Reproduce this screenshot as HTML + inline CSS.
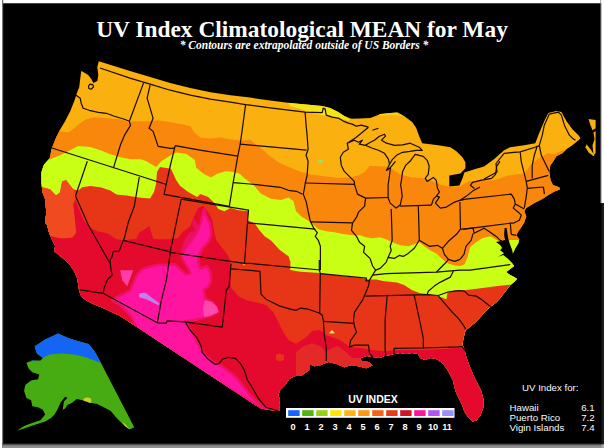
<!DOCTYPE html>
<html><head><meta charset="utf-8"><title>UV Index Climatological MEAN for May</title>
<style>
html,body{margin:0;padding:0;background:#000;}
body{width:604px;height:448px;overflow:hidden;font-family:"Liberation Sans",sans-serif;}
svg{display:block}
</style></head><body>
<svg width="604" height="448" viewBox="0 0 604 448">
<defs><clipPath id="us"><path d="M98.8 61.3 L130.0 71.1 L150.1 77.1 L170.2 83.1 L190.3 88.1 L210.4 92.2 L230.5 95.2 L250.0 97.6 L270.0 100.5 L290.0 103.0 L306.1 104.6 L322.2 106.1 L330.2 108.1 L338.2 112.1 L344.3 116.1 L350.3 118.7 L360.0 118.6 L370.4 118.1 L380.5 114.1 L390.5 113.1 L397.1 112.5 L404.1 116.1 L412.2 122.1 L416.2 128.1 L419.2 136.2 L422.2 143.2 L438.3 145.2 L450.4 147.2 L456.4 151.3 L462.4 157.3 L465.4 162.3 L465.4 168.3 L460.4 173.4 L449.3 175.4 L449.3 186.4 L459.4 185.4 L462.4 178.4 L464.4 172.4 L474.5 169.3 L484.0 166.4 L494.0 159.3 L504.1 150.3 L510.1 147.3 L524.2 145.3 L535.3 143.2 L538.3 135.2 L544.3 121.1 L548.3 113.1 L556.4 111.1 L561.4 112.1 L566.4 121.1 L572.4 129.2 L578.5 135.2 L580.5 138.2 L578.5 140.2 L572.4 145.3 L566.4 149.3 L562.4 153.3 L556.4 156.3 L553.3 161.3 L550.3 165.4 L549.3 171.4 L550.5 180.0 L553.0 185.0 L559.3 187.3 L559.9 189.5 L554.5 191.6 L548.4 195.1 L542.4 199.1 L534.4 203.1 L526.3 208.1 L524.3 211.2 L526.3 216.2 L524.3 222.2 L521.3 227.2 L518.3 231.3 L516.3 235.3 L519.3 239.3 L518.3 243.3 L515.3 248.3 L512.3 254.4 L513.7 260.4 L514.2 266.1 L510.2 269.1 L506.2 272.1 L510.2 275.1 L514.2 277.1 L517.2 279.1 L514.2 282.1 L510.2 285.2 L507.2 289.2 L503.2 294.2 L500.2 298.2 L496.8 302.0 L490.0 307.2 L484.6 312.3 L479.5 318.3 L474.5 323.3 L469.5 327.3 L465.5 330.4 L463.5 338.4 L462.5 344.4 L464.3 349.1 L466.3 357.1 L469.3 365.2 L473.4 375.2 L477.4 383.2 L481.4 391.3 L483.4 399.3 L483.4 407.4 L480.4 415.4 L476.4 420.4 L472.4 421.4 L468.3 417.4 L464.3 411.4 L462.3 405.4 L459.3 399.3 L456.3 393.3 L454.3 387.3 L453.3 381.2 L450.3 375.2 L447.2 369.2 L442.2 363.1 L436.2 359.1 L430.2 358.1 L425.1 360.1 L420.1 358.1 L418.1 354.1 L412.1 353.1 L406.0 354.1 L400.0 353.1 L392.0 354.8 L384.5 356.0 L380.0 358.1 L372.6 357.1 L366.5 356.1 L360.5 358.1 L361.5 361.1 L368.5 362.1 L372.6 365.2 L366.5 368.2 L358.5 366.2 L350.5 365.2 L344.4 367.2 L336.4 364.1 L328.3 362.1 L320.3 365.2 L314.3 366.2 L309.2 364.1 L309.2 370.2 L302.2 375.2 L294.2 376.2 L289.1 379.2 L285.1 385.3 L280.1 390.3 L278.1 395.3 L280.1 399.3 L279.1 405.4 L280.1 410.4 L276.0 411.0 L261.0 408.5 L251.0 402.3 L226.0 385.8 L201.0 369.3 L176.0 352.8 L160.0 342.2 L145.0 332.3 L130.0 322.4 L118.4 315.0 L114.4 313.4 L104.4 308.4 L94.3 304.4 L86.3 300.4 L81.3 296.4 L79.2 291.3 L78.2 285.3 L77.2 278.3 L74.2 271.2 L70.2 265.2 L65.2 260.2 L59.1 255.2 L54.1 251.1 L55.1 246.1 L52.1 240.1 L49.1 233.0 L47.1 225.0 L45.0 222.5 L46.3 212.5 L45.0 198.8 L42.5 192.5 L41.3 182.5 L41.3 172.5 L43.8 165.0 L50.0 157.5 L51.3 150.0 L53.1 145.0 L56.1 137.4 L60.1 129.4 L65.1 121.3 L70.2 111.3 L74.2 101.2 L76.2 95.2 L77.2 92.2 L79.2 87.2 L80.2 79.1 L81.2 71.1 L83.2 72.1 L88.2 75.1 L91.3 79.1 L93.3 83.1 L97.3 81.1 L98.3 75.1 L97.3 67.1Z"/></clipPath></defs>
<rect width="604" height="448" fill="#000"/>
<g clip-path="url(#us)">
<rect width="604" height="448" fill="#FAB00E"/>
<polygon points="280.0,95.0 288.0,102.0 290.0,106.1 302.1,109.6 312.1,113.1 323.2,115.6 330.2,116.6 338.2,118.1 348.3,120.8 352.0,118.0 352.0,100.0 280.0,90.0" fill="#F2E418"/>
<polygon points="375.0,110.0 380.5,116.0 390.0,115.2 398.0,115.2 403.0,116.0 400.0,110.0" fill="#F6D015"/>
<ellipse cx="320.5" cy="161.3" rx="3" ry="1.5" fill="#A8D860"/>
<polygon points="40.0,135.0 62.1,131.4 68.1,132.4 74.2,128.4 80.2,123.3 86.2,119.3 94.3,117.3 106.3,118.3 120.4,119.3 128.4,122.3 134.5,121.3 150.1,121.3 158.1,120.3 170.2,122.3 182.3,124.3 190.3,126.3 194.3,132.4 200.4,137.4 210.4,138.4 220.5,137.4 230.5,139.4 242.6,140.4 250.0,139.8 260.0,147.2 270.0,156.3 280.0,163.3 290.0,167.4 300.0,171.4 310.1,174.4 322.2,175.9 330.2,176.9 338.2,177.9 350.3,177.4 358.3,175.4 365.4,171.4 369.4,165.8 384.5,166.4 390.5,167.8 400.1,174.4 412.2,177.4 426.2,178.4 440.3,184.4 449.3,186.8 459.4,186.4 468.4,181.4 480.5,180.4 492.6,180.4 500.0,178.4 508.1,175.4 524.2,173.4 532.2,163.3 540.3,157.3 548.3,153.3 554.4,154.3 560.4,151.3 575.0,148.0 615.0,148.0 615.0,460.0 0.0,460.0 0.0,135.0" fill="#F8870C"/>
<polygon points="38.0,166.0 44.0,163.2 50.0,159.2 60.2,155.2 70.2,150.2 78.2,146.1 90.3,147.1 100.4,150.2 110.4,154.2 120.5,157.2 130.5,159.2 140.6,159.2 146.6,161.2 152.5,165.0 156.3,167.0 161.3,161.3 171.0,155.0 176.0,152.5 186.0,153.8 194.8,160.0 196.0,167.5 203.5,173.8 211.0,177.5 217.3,173.8 226.0,171.3 233.5,172.0 239.8,173.8 243.5,177.5 253.5,185.0 261.0,193.8 271.0,198.8 281.0,200.0 288.5,197.5 293.5,201.3 296.0,211.3 301.0,216.3 311.0,222.5 318.3,229.2 326.4,231.3 334.4,232.3 344.5,234.3 352.5,235.3 360.0,235.3 366.0,237.3 372.1,238.3 380.1,237.3 386.1,239.3 392.2,242.3 400.2,245.3 408.2,246.3 414.3,244.3 419.3,242.3 424.3,246.3 430.4,250.4 436.4,253.4 440.4,257.4 444.4,260.9 448.4,263.4 454.5,265.4 460.5,265.9 464.5,264.4 467.5,257.4 470.1,247.3 476.1,242.3 482.1,238.3 490.2,236.3 497.2,240.3 503.0,243.5 510.0,240.0 530.0,240.0 570.0,240.0 570.0,460.0 -2.0,460.0 -2.0,166.0" fill="#C8FF14"/>
<polygon points="38.0,186.0 42.0,187.3 50.0,189.3 56.0,195.4 60.0,192.4 62.2,181.3 66.2,180.3 69.2,184.3 73.2,189.3 78.2,190.4 82.3,187.3 90.3,186.0 100.4,187.3 110.4,190.4 116.4,194.4 126.5,195.4 138.5,197.4 150.0,198.5 154.0,192.0 156.0,184.0 157.0,172.0 160.0,167.0 171.0,168.8 176.1,180.0 180.2,186.0 188.2,192.0 197.2,197.1 200.3,194.1 208.3,197.1 214.3,203.1 218.3,209.1 224.4,211.2 230.4,208.1 238.4,210.2 248.5,211.2 247.5,220.2 254.5,223.2 259.5,230.3 264.6,236.3 271.0,240.5 279.8,250.0 288.5,256.3 290.5,262.0 290.2,270.1 300.2,271.7 320.3,273.1 340.4,276.1 360.5,278.1 368.5,279.6 376.0,279.6 384.5,281.3 397.0,282.5 404.2,285.1 412.2,290.2 420.3,293.2 430.3,294.2 438.3,296.2 446.4,299.2 447.4,293.2 454.4,290.2 464.5,290.2 474.5,289.1 482.6,288.1 495.5,286.3 506.8,285.0 530.0,284.0 570.0,284.0 570.0,460.0 -2.0,460.0 -2.0,186.0" fill="#E73518"/>
<polygon points="38.0,185.0 42.0,187.3 50.0,189.3 56.0,195.4 60.0,192.4 62.2,181.3 66.2,180.3 69.2,184.3 73.2,189.3 76.0,196.0 73.5,204.0 75.0,220.0 76.3,232.5 72.5,238.0 38.0,238.0" fill="#F04A20"/>
<polygon points="40.0,236.0 51.3,236.3 62.5,238.8 72.5,237.5 76.3,232.5 75.0,220.0 73.3,203.8 75.5,200.0 78.8,208.8 83.8,220.0 90.0,227.5 97.5,231.3 108.0,233.5 116.0,238.9 122.0,240.2 136.2,238.9 138.9,232.8 145.6,228.8 149.6,226.1 151.6,233.5 153.6,238.9 167.0,239.5 178.0,238.3 182.2,232.3 190.2,226.2 193.2,218.2 198.2,208.1 203.3,206.1 208.3,212.2 212.3,220.2 214.3,232.3 216.3,240.3 222.4,248.3 227.4,254.4 230.4,261.4 231.0,287.5 238.5,296.3 246.0,300.0 256.0,302.5 266.0,305.0 273.5,312.5 278.5,322.5 283.5,332.5 288.5,340.0 296.0,343.8 306.0,337.5 312.0,331.0 320.0,330.0 326.0,335.0 340.0,340.0 350.0,347.0 360.0,348.0 372.0,350.0 384.5,351.3 397.0,350.0 422.0,350.0 447.0,348.8 470.0,347.0 510.0,347.0 510.0,460.0 0.0,460.0 0.0,236.0" fill="#E40A2E"/>
<polygon points="296.0,352.0 304.0,346.0 312.1,343.3 320.0,346.0 326.1,352.3 332.0,348.0 338.0,346.0 346.0,352.0 352.0,358.0 362.0,358.0 368.3,355.3 376.0,360.0 376.0,374.0 296.0,382.0" fill="#E42A26"/>
<polygon points="276.0,355.0 279.0,353.5 284.0,355.0 284.0,360.0 280.0,361.5 276.0,360.0" fill="#E73518"/>
<polygon points="180.2,256.3 180.2,252.3 182.2,246.2 185.2,238.2 190.2,232.2 195.2,230.2 192.2,224.1 193.2,218.1 196.2,222.1 199.2,226.1 201.3,220.1 202.7,212.1 204.3,209.0 203.0,225.0 195.0,240.0 186.0,252.0" fill="#EA1060"/>
<polygon points="204.3,209.0 206.3,216.1 210.3,224.1 211.3,234.2 208.3,242.2 202.3,248.2 199.2,255.3 198.2,262.3 200.3,268.3 207.3,266.3 210.3,272.4 211.3,280.4 208.3,286.4 203.7,290.0 205.2,298.0 212.3,302.1 216.3,307.1 218.3,312.1 210.3,316.1 202.2,318.1 194.2,320.2 185.1,321.2 194.2,336.2 200.2,348.3 206.2,356.3 214.3,362.4 222.3,366.4 230.4,372.4 238.4,380.0 251.0,396.0 261.0,406.0 271.0,409.8 281.0,420.0 140.0,335.0 131.0,316.0 121.0,306.0 112.1,300.3 118.1,296.3 125.2,293.3 130.2,290.3 133.2,283.2 137.2,274.2 143.3,268.6 150.3,266.5 160.4,264.5 168.4,265.0 174.4,264.0 180.2,269.0 186.2,274.5 190.2,273.4 188.2,268.3 183.2,260.3 181.5,255.3 184.0,250.3 187.2,246.0 191.7,240.2 195.7,234.2 198.7,228.2 200.8,222.2 202.3,216.1 203.3,211.0" fill="#FF14A0" stroke="#F01068" stroke-width="2.5" stroke-linejoin="round"/>
<polygon points="120.2,270.2 133.2,270.2 127.2,286.2 122.2,280.2" fill="#FF3CA8"/>
<polygon points="205.0,300.0 212.0,302.0 217.0,307.0 218.5,312.0 210.0,316.0 204.0,317.0 203.0,308.0" fill="#FF48AE"/>
<polygon points="139.2,293.3 145.3,292.7 159.3,303.3 158.3,305.3 146.3,299.3 139.2,297.3" fill="#C080F0"/>
<polygon points="329.3,333.2 334.6,333.2 332.0,330.0" fill="#FFF0A0" stroke="#F0A020" stroke-width="0.6"/>
<polygon points="243.0,263.2 245.2,263.2 244.1,266.0" fill="#FFD020"/>
</g>
<polygon points="504.6,228.0 506.6,228.0 507.6,235.1 508.6,240.1 510.2,245.1 512.2,250.2 513.2,255.2 520.0,255.0 520.0,266.1 514.2,266.1 512.2,263.0 508.2,259.0 503.2,255.0 498.1,256.7 504.1,253.2 500.1,250.2 502.1,248.1 500.1,245.1 496.1,242.1 505.1,240.1 504.1,235.1" fill="#000"/>
<polygon points="588.5,119.1 595.6,120.1 595.6,128.2 592.5,130.2 590.5,125.2" fill="#FAB00E"/>
<polygon points="593.5,132.2 595.6,131.2 595.6,153.3 593.5,155.3 592.5,145.3 594.5,139.2" fill="#FAB00E"/>
<polygon points="586.5,144.2 590.5,149.3 594.5,155.3 593.5,156.3 588.5,152.3 585.5,147.3" fill="#FAB00E"/>
<g fill="none" stroke="#1a0a00" stroke-width="1.2" stroke-linejoin="round">
<path d="M100.0 68.0 L130.0 78.1 L150.1 84.1 L170.2 90.2 L190.3 95.2 L210.4 99.2 L230.5 102.2 L245.6 104.6 L270.0 107.8 L305.1 112.1 L322.2 112.7 L323.2 108.1 L325.2 109.1 L326.2 115.1 L332.2 117.1 L338.2 118.1 L343.3 121.1 L348.3 123.1 L352.3 124.1 L356.3 126.2 L361.4 125.2 L368.4 127.2"/>
<path d="M368.4 127.2 L362.4 132.2 L356.3 137.2 L350.3 141.2 L347.3 143.2 L354.3 140.2 L358.3 142.2 L362.4 140.2 L359.3 144.2 L365.4 145.3 L370.4 142.2 L374.4 140.2 L379.4 136.2 L384.5 134.2 L385.5 136.2 L381.5 140.2 L386.5 143.2 L394.5 145.3 L402.6 144.8 L410.2 143.2 L419.2 147.2 L422.2 150.3 L416.2 150.3 L410.0 151.3 L402.6 152.3 L396.5 155.3 L392.5 159.3 L389.5 164.3 L386.5 170.4 L390.5 167.4 L395.5 161.3"/>
<path d="M372.4 130.2 L378.4 128.2"/>
<path d="M365.4 145.3 L372.4 148.3 L378.4 150.3 L384.5 153.3 L388.5 159.3 L389.5 164.3"/>
<path d="M390.5 167.4 L389.5 175.4 L388.1 185.0 L388.1 197.7 L390.2 203.1 L396.2 208.1 L400.2 205.1 L402.2 196.1 L401.2 188.0 L400.6 185.0 L401.6 179.4 L402.6 171.4 L405.6 165.4 L410.0 161.3 L412.2 158.3 L415.2 154.3 L423.2 156.3 L427.2 160.3 L429.2 166.3 L428.2 174.4 L425.2 178.4 L427.2 181.4 L433.3 177.4 L436.3 180.4 L437.4 188.0 L439.4 192.1 L436.4 196.1 L433.4 199.1 L431.4 205.1"/>
<path d="M436.4 196.1 L439.4 197.1 L437.4 200.1 L435.4 203.1 L440.4 208.1 L446.4 207.1 L454.5 202.1 L460.5 200.1 L466.5 196.1 L472.6 191.1 L480.0 187.0"/>
<path d="M500.0 161.3 L496.6 166.3 L495.6 174.4 L491.6 178.4 L480.5 180.4 L472.5 182.4 L470.5 185.4 L474.5 188.4"/>
<path d="M76.2 95.2 L80.2 98.2 L81.2 103.2 L83.2 108.3 L89.2 110.3 L98.3 112.3 L106.3 113.3 L114.4 116.3 L124.4 119.3 L129.4 121.3"/>
<path d="M88.5 86.0 L90.0 84.2 L93.0 84.8 L93.5 87.0 L91.0 89.2 L88.8 88.5 L88.5 86.0"/>
<path d="M143.5 83.1 L129.4 121.3 L130.5 125.4 L124.4 135.4 L120.4 145.0 L113.4 168.2"/>
<path d="M52.0 148.0 L150.0 179.3 L166.5 184.5"/>
<path d="M150.1 85.1 L147.1 98.2 L150.1 108.2 L153.1 118.3 L149.1 128.3 L153.1 131.4 L156.1 140.4 L158.1 146.4 L170.2 148.4 L174.6 148.2"/>
<path d="M175.2 145.6 L200.0 150.1 L237.8 156.1 L233.2 182.3 L229.3 206.3 L164.1 194.3 L166.5 183.0 L170.2 166.0 L175.2 145.6"/>
<path d="M245.6 104.6 L242.2 130.0 L240.2 144.1 L237.8 156.1"/>
<path d="M240.2 144.1 L306.5 150.1"/>
<path d="M305.1 112.1 L306.1 125.2 L307.1 135.2 L308.1 149.3 L306.1 155.3 L308.1 161.3 L307.1 175.4 L305.3 183.0 L304.3 189.0 L303.3 194.1 L306.3 202.1 L308.3 212.2 L310.3 221.2 L314.3 229.2 L317.3 232.7 L315.3 236.3 L318.3 240.3 L320.4 246.3 L320.4 270.0"/>
<path d="M305.3 183.0 L354.5 184.4"/>
<path d="M233.2 182.7 L250.0 184.0 L280.4 187.3 L288.4 190.3 L296.5 191.3 L302.5 194.3"/>
<path d="M247.5 222.8 L315.3 229.2"/>
<path d="M181.2 199.1 L248.5 210.2 L247.5 222.0 L244.5 263.4 L230.4 261.4 L170.1 252.4 L181.2 199.1"/>
<path d="M87.3 161.2 L75.5 196.0 L88.3 225.0 L109.4 262.2"/>
<path d="M139.3 177.0 L134.3 206.2 L128.3 222.3 L124.3 238.3 L123.3 240.4 L170.5 251.8"/>
<path d="M123.3 240.4 L121.3 245.4 L119.2 251.4 L113.2 251.4 L112.2 256.4 L110.2 260.0 L110.1 262.1 L111.1 270.2 L112.1 275.2 L107.1 280.2 L104.1 288.2 L103.1 293.3"/>
<path d="M80.0 289.8 L90.0 291.3 L103.1 293.3 L157.3 322.8 L166.5 323.2 L167.0 320.8 L185.1 321.8 L222.3 327.2"/>
<path d="M170.4 252.1 L166.4 280.2 L161.4 300.3 L157.3 322.8"/>
<path d="M231.0 263.8 L229.0 287.0 L226.3 290.0 L222.3 327.2"/>
<path d="M185.1 321.8 L190.2 330.2 L197.2 338.2 L201.2 346.3 L202.2 352.3 L208.2 359.3 L215.3 364.4 L219.3 363.4 L222.3 359.3 L228.3 357.3 L235.4 358.3 L240.4 363.4 L244.4 370.4 L247.4 380.0 L251.0 385.5 L258.5 398.5 L266.0 407.3 L278.5 411.0"/>
<path d="M244.5 263.4 L250.0 263.4 L320.4 270.0"/>
<path d="M231.0 268.8 L260.0 271.3 L261.0 294.2 L266.0 299.2 L272.1 302.2 L280.1 306.2 L290.2 309.2 L296.2 310.3 L300.2 308.2 L308.2 309.2 L314.3 311.3 L319.7 313.3 L322.3 315.3 L323.3 320.3 L324.3 335.0 L326.3 347.1 L326.3 361.1"/>
<path d="M319.3 260.0 L319.3 269.6 L320.3 273.7 L319.7 313.3"/>
<path d="M323.3 321.3 L353.5 323.3"/>
<path d="M320.3 273.7 L366.5 278.1 L366.0 281.0 L369.5 280.6"/>
<path d="M310.3 221.8 L352.5 222.8"/>
<path d="M347.3 143.2 L348.3 149.3 L343.3 152.3 L340.3 157.3 L341.3 165.4 L344.3 171.4 L350.3 177.4 L354.3 181.4 L354.5 184.4 L357.5 194.1 L365.6 198.1 L364.6 206.1 L358.5 212.2 L356.5 217.2 L352.5 223.2 L351.5 230.3 L356.5 236.3 L359.5 242.3 L364.6 246.3 L363.6 252.4 L370.0 258.4 L370.6 260.0 L372.6 266.0 L375.6 270.1 L372.6 275.1 L369.5 280.1 L368.5 286.1 L365.5 293.2 L362.5 300.2 L358.5 306.2 L354.5 312.3 L353.5 320.3 L354.5 326.3 L356.5 332.4 L354.5 335.0 L350.4 341.0 L349.4 347.1 L354.5 345.1 L368.5 345.1 L369.5 353.1 L372.6 357.1"/>
<path d="M365.6 198.1 L388.3 197.5"/>
<path d="M391.2 209.1 L392.2 240.3 L390.2 246.3 L391.2 250.4 L388.1 257.4"/>
<path d="M400.2 206.1 L431.4 205.1"/>
<path d="M418.3 205.6 L419.3 240.3"/>
<path d="M459.9 202.1 L460.5 229.2 L456.5 234.3 L448.4 241.3 L442.4 248.3 L437.4 245.3 L429.3 246.3 L424.3 243.3 L419.3 240.3 L414.3 248.3 L408.2 253.4 L403.2 256.4 L399.2 255.4 L394.2 258.4 L388.1 257.4 L386.1 262.4 L380.1 268.4 L375.6 270.1"/>
<path d="M442.4 248.3 L444.4 254.4 L448.4 259.4 L454.5 261.4 L460.0 259.4"/>
<path d="M460.5 229.2 L463.0 229.2 L480.0 227.2 L510.3 223.2"/>
<path d="M460.0 200.3 L466.0 199.1 L511.3 194.1 L514.3 199.1 L515.3 204.1 L513.3 208.1 L518.3 212.2 L521.3 215.2 L519.3 220.2 L513.3 223.2 L510.3 223.2 L511.3 234.3 L516.3 235.3"/>
<path d="M515.3 204.1 L524.3 209.1"/>
<path d="M520.2 152.3 L521.2 161.3 L524.2 173.4 L526.2 181.4 L527.3 188.0 L526.3 196.1 L525.3 202.1 L524.3 208.1"/>
<path d="M537.3 145.8 L534.3 155.3 L532.2 165.4 L532.2 178.5"/>
<path d="M549.3 114.1 L544.3 125.2 L542.3 135.2 L539.3 145.3 L541.3 155.3 L546.3 165.4 L549.3 171.4"/>
<path d="M526.2 181.4 L548.3 175.4"/>
<path d="M527.3 188.4 L543.4 187.0"/>
<path d="M543.4 187.0 L544.4 194.1"/>
<path d="M504.1 153.3 L496.0 163.5 L497.0 172.0 L484.0 179.0"/>
<path d="M504.1 153.3 L520.2 151.9 L538.3 146.3 L539.3 145.3"/>
<path d="M549.3 114.1 L558.4 112.1 L561.4 115.1 L564.4 125.2 L569.4 135.2 L572.4 138.2 L575.5 140.2"/>
<path d="M463.0 229.2 L473.1 228.2 L474.1 233.3 L480.1 230.3 L484.1 228.2 L490.2 232.3 L497.2 237.3 L500.2 240.3 L503.2 242.3"/>
<path d="M473.1 233.3 L471.1 240.3 L466.0 246.3 L464.0 254.4 L460.0 259.4"/>
<path d="M372.6 275.1 L386.1 273.7 L436.3 272.1 L460.0 270.1 L470.0 270.1 L510.2 264.5"/>
<path d="M436.3 272.1 L440.4 268.0 L446.4 262.0 L448.4 259.4"/>
<path d="M365.5 296.2 L427.3 294.6 L438.3 295.5 L447.4 292.2 L458.4 290.6 L464.5 291.2 L468.5 295.2 L476.5 296.2 L482.6 300.2 L488.6 305.2 L491.0 306.5"/>
<path d="M453.4 271.1 L450.4 277.1 L446.4 279.1 L440.4 282.1 L434.3 286.1 L428.3 291.2 L427.3 294.2"/>
<path d="M387.1 296.2 L385.1 320.3 L385.1 350.0 L386.0 356.0"/>
<path d="M414.2 295.2 L419.2 318.3 L423.3 338.4 L423.3 348.4"/>
<path d="M394.1 357.5 L394.1 348.4 L423.3 348.0 L458.4 346.8 L462.0 346.3 L464.5 350.0 L466.5 348.8"/>
<path d="M438.3 295.8 L444.4 303.2 L452.4 312.3 L458.4 318.3 L463.5 325.3 L465.5 329.3"/>
</g>
<defs><clipPath id="ak"><path d="M34.6 346.4 L45.2 339.4 L58.0 333.5 L68.6 338.2 L80.3 341.7 L88.5 344.1 L94.4 351.1 L100.2 361.6 L134.2 427.3 L129.5 429.6 L124.8 426.1 L120.1 421.4 L115.5 416.7 L110.8 410.9 L103.7 407.3 L96.7 403.8 L89.7 402.7 L82.7 400.3 L76.8 399.1 L72.1 402.7 L67.4 405.0 L65.1 408.5 L62.7 409.7 L63.9 401.5 L67.4 398.0 L65.1 396.8 L60.4 402.7 L58.0 408.5 L54.5 414.4 L51.0 417.9 L45.2 421.4 L38.1 423.7 L31.1 426.1 L24.1 428.4 L17.0 430.8 L24.1 426.1 L33.4 422.6 L40.5 420.2 L45.2 414.4 L42.8 409.7 L38.1 407.3 L32.3 406.2 L31.1 400.3 L26.4 398.0 L24.1 390.9 L25.2 385.1 L31.1 380.4 L38.1 379.2 L39.3 374.5 L32.3 372.2 L28.8 368.7 L26.4 362.8 L32.3 360.5 L40.5 360.5 L42.8 358.1 L37.0 353.4Z"/></clipPath></defs>
<g clip-path="url(#ak)"><rect x="0" y="330" width="150" height="110" fill="#46AC12"/><polygon points="30.0,328.0 105.0,328.0 105.0,363.0 100.2,362.8 94.4,360.5 85.0,357.0 73.3,354.6 61.6,353.4 49.8,354.6 40.5,359.3 30.0,362.0" fill="#1565F5"/><ellipse cx="87.3" cy="400.8" rx="4" ry="3.2" fill="#C6D22E"/><polygon points="122,422 125,424 129.5,429 126,427.5" fill="#C6D22E"/></g>
<rect x="286" y="408" width="168.5" height="9.8" fill="#fff"/>
<rect x="288.2" y="410.2" width="11.4" height="5.8" fill="#1464FF"/>
<text x="293.0" y="430.4" text-anchor="middle" font-family="Liberation Sans, sans-serif" font-weight="bold" font-size="9.2" fill="#fff">0</text>
<rect x="302.2" y="410.2" width="11.4" height="5.8" fill="#50B414"/>
<text x="307.0" y="430.4" text-anchor="middle" font-family="Liberation Sans, sans-serif" font-weight="bold" font-size="9.2" fill="#fff">1</text>
<rect x="316.2" y="410.2" width="11.4" height="5.8" fill="#96D214"/>
<text x="321.0" y="430.4" text-anchor="middle" font-family="Liberation Sans, sans-serif" font-weight="bold" font-size="9.2" fill="#fff">2</text>
<rect x="330.2" y="410.2" width="11.4" height="5.8" fill="#FFE600"/>
<text x="335.0" y="430.4" text-anchor="middle" font-family="Liberation Sans, sans-serif" font-weight="bold" font-size="9.2" fill="#fff">3</text>
<rect x="344.2" y="410.2" width="11.4" height="5.8" fill="#FFB414"/>
<text x="349.0" y="430.4" text-anchor="middle" font-family="Liberation Sans, sans-serif" font-weight="bold" font-size="9.2" fill="#fff">4</text>
<rect x="358.2" y="410.2" width="11.4" height="5.8" fill="#FF9614"/>
<text x="363.0" y="430.4" text-anchor="middle" font-family="Liberation Sans, sans-serif" font-weight="bold" font-size="9.2" fill="#fff">5</text>
<rect x="372.2" y="410.2" width="11.4" height="5.8" fill="#F56414"/>
<text x="377.0" y="430.4" text-anchor="middle" font-family="Liberation Sans, sans-serif" font-weight="bold" font-size="9.2" fill="#fff">6</text>
<rect x="386.2" y="410.2" width="11.4" height="5.8" fill="#E63C1E"/>
<text x="391.0" y="430.4" text-anchor="middle" font-family="Liberation Sans, sans-serif" font-weight="bold" font-size="9.2" fill="#fff">7</text>
<rect x="400.2" y="410.2" width="11.4" height="5.8" fill="#D21428"/>
<text x="405.0" y="430.4" text-anchor="middle" font-family="Liberation Sans, sans-serif" font-weight="bold" font-size="9.2" fill="#fff">8</text>
<rect x="414.2" y="410.2" width="11.4" height="5.8" fill="#FF14A0"/>
<text x="419.0" y="430.4" text-anchor="middle" font-family="Liberation Sans, sans-serif" font-weight="bold" font-size="9.2" fill="#fff">9</text>
<rect x="428.2" y="410.2" width="11.4" height="5.8" fill="#B450FF"/>
<text x="433.0" y="430.4" text-anchor="middle" font-family="Liberation Sans, sans-serif" font-weight="bold" font-size="9.2" fill="#fff">10</text>
<rect x="442.2" y="410.2" width="11.4" height="5.8" fill="#A08CFF"/>
<text x="447.0" y="430.4" text-anchor="middle" font-family="Liberation Sans, sans-serif" font-weight="bold" font-size="9.2" fill="#fff">11</text>
<text x="373" y="403.2" text-anchor="middle" font-family="Liberation Sans, sans-serif" font-weight="bold" font-size="10.5" fill="#fff">UV INDEX</text>
<g font-family="Liberation Sans, sans-serif" font-size="9.7" fill="#fafafa">
<text x="522" y="390.8">UV Index for:</text>
<text x="509.5" y="410.8">Hawaii</text><text x="594.7" y="410.8" text-anchor="end">6.1</text>
<text x="509.5" y="420.7">Puerto Rico</text><text x="594.7" y="420.7" text-anchor="end">7.2</text>
<text x="509.5" y="430.8">Vigin Islands</text><text x="594.7" y="430.8" text-anchor="end">7.4</text>
</g>
<text x="302" y="36.6" text-anchor="middle" font-family="Liberation Serif, serif" font-weight="bold" font-size="23.4" fill="#fff">UV Index Climatological MEAN for May</text>
<text x="304" y="48.6" text-anchor="middle" font-family="Liberation Serif, serif" font-weight="bold" font-style="italic" font-size="11.5" fill="#fff">* Contours are extrapolated outside of US Borders *</text>
<rect x="0" y="0" width="604" height="3" fill="#fff"/>
<rect x="0" y="3" width="604" height="0.8" fill="#555"/>
<rect x="2" y="0" width="1.2" height="448" fill="#666"/>
<rect x="0" y="0" width="2.1" height="448" fill="#fff"/>
<rect x="2.1" y="443.6" width="602" height="1" fill="#3a3a3a"/>
<rect x="2.1" y="444.5" width="602" height="1.5" fill="#7c7c7c"/>
<rect x="2.1" y="446" width="602" height="2" fill="#909090"/>
<rect x="601.6" y="203" width="2.4" height="241" fill="#1c1c1c"/>
<rect x="600.4" y="0" width="1" height="203" fill="#777"/>
<rect x="601.3" y="0" width="2.7" height="203" fill="#fff"/>
<rect x="601.6" y="444.5" width="2.4" height="3.5" fill="#aaa"/>
</svg>
</body></html>
